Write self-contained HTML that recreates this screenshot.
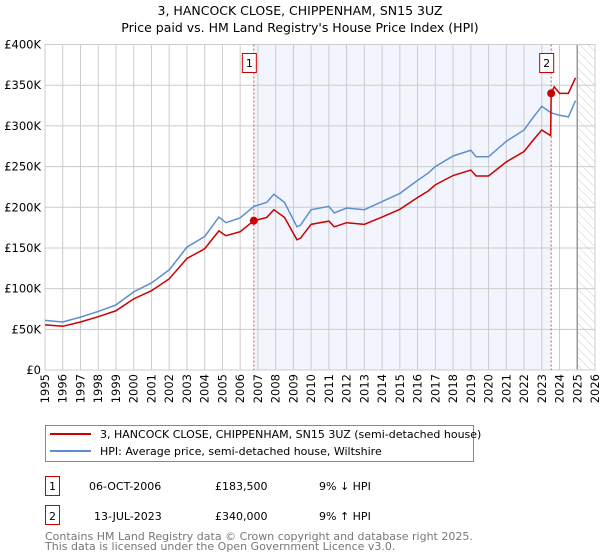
<!DOCTYPE html>
<html><head><meta charset="utf-8"><style>
body{margin:0;background:#fff}
svg{display:block;font-family:"DejaVu Sans","Liberation Sans",sans-serif}
</style></head><body>
<svg id="chart" width="600" height="560" viewBox="0 0 600 560" xmlns="http://www.w3.org/2000/svg">
<defs><pattern id="hatch" width="6" height="6" patternUnits="userSpaceOnUse" patternTransform="rotate(-45)"><line x1="0" y1="0" x2="0" y2="6" stroke="#ccc" stroke-width="1"/></pattern></defs>
<text x="300" y="15" text-anchor="middle" font-size="12.5">3, HANCOCK CLOSE, CHIPPENHAM, SN15 3UZ</text>
<text x="300" y="32" text-anchor="middle" font-size="12.5">Price paid vs. HM Land Registry's House Price Index (HPI)</text>
<g id="plot"></g>
<g>
<rect x="45.5" y="425.5" width="428" height="36" fill="#fff" stroke="#888"/>
<line x1="50" y1="434" x2="91" y2="434" stroke="#cc0000" stroke-width="2"/>
<text x="100" y="438" font-size="11">3, HANCOCK CLOSE, CHIPPENHAM, SN15 3UZ (semi-detached house)</text>
<line x1="50" y1="451" x2="91" y2="451" stroke="#5b8fd0" stroke-width="2"/>
<text x="100" y="455" font-size="11">HPI: Average price, semi-detached house, Wiltshire</text>
</g>
<g font-size="11">
<rect x="45.5" y="476.5" width="14" height="19" fill="#fff" stroke="#cc0000"/>
<text x="52.5" y="490" text-anchor="middle">1</text>
<text x="89" y="490">06-OCT-2006</text><text x="215" y="490">£183,500</text><text x="319" y="490">9% ↓ HPI</text>
</g>
<g font-size="11">
<rect x="45.5" y="505.5" width="14" height="19" fill="#fff" stroke="#cc0000"/>
<text x="52.5" y="520" text-anchor="middle">2</text>
<text x="94" y="520">13-JUL-2023</text><text x="215" y="520">£340,000</text><text x="319" y="520">9% ↑ HPI</text>
</g>
<text x="45" y="540" font-size="11" fill="#777">Contains HM Land Registry data © Crown copyright and database right 2025.</text>
<text x="45" y="550" font-size="11" fill="#777">This data is licensed under the Open Government Licence v3.0.</text>
</svg>
<script>
const hpiDates=[1995,1996,1997,1998,1999,2000,2001,2002,2003,2004,2004.8,2005.2,2006,2006.77,2007.5,2007.9,2008.5,2009.2,2009.4,2010,2011,2011.3,2012,2013,2014,2015,2016,2016.6,2017,2018,2019,2019.3,2020,2021,2022,2022.5,2023,2023.53,2024,2024.5,2024.9];
const hpiValues=[61,59,65,72,80,96,107,123,151,164,188,181,187,201,206,216,206,176,178,197,201,193,199,197,207,217,233,242,250,263,270,262,262,281,295,310,324,316,313,311,331];
const redDates=[1995,1996,1997,1998,1999,2000,2001,2002,2003,2004,2004.8,2005.2,2006,2006.77,2007.5,2007.9,2008.5,2009.2,2009.4,2010,2011,2011.3,2012,2013,2014,2015,2016,2016.6,2017,2018,2019,2019.3,2020,2021,2022,2022.5,2023,2023.5,2023.53,2023.7,2024,2024.5,2024.9];
const redValues=[55.5,53.7,59,65.5,72.8,87.4,97.4,112,137,149,171,165,170,183.5,187.5,197,187.5,160,162,179,183,176,181,179,188,197.5,212,220,227.5,239,245.7,238.4,238.4,255.7,268.5,282,295,288,340,348,340,340,359];
const saleDates=[2006.77,2023.53];
const saleValues=[183.5,340];
const saleLabels=["1","2"];
const yTicks=[0,50,100,150,200,250,300,350,400];
const yTickLabels=["£0","£50K","£100K","£150K","£200K","£250K","£300K","£350K","£400K"];
const xTicks=[1995,1996,1997,1998,1999,2000,2001,2002,2003,2004,2005,2006,2007,2008,2009,2010,2011,2012,2013,2014,2015,2016,2017,2018,2019,2020,2021,2022,2023,2024,2025,2026];

const L=45,R=595,T=44.5,B=370,X0=1995,X1=2026,YMAX=400;
const xs=d=>L+(d-X0)/(X1-X0)*(R-L);
const ys=v=>B-v/YMAX*(B-T);
const NS="http://www.w3.org/2000/svg";
const g=document.getElementById('plot');
function mk(tag,attrs,parent){const e=document.createElementNS(NS,tag);for(const k in attrs)e.setAttribute(k,attrs[k]);(parent||g).appendChild(e);return e;}

const shade=mk('rect',{x:xs(saleDates[0]),y:T,width:xs(saleDates[1])-xs(saleDates[0]),height:B-T,fill:'#f2f5fd'});


const hatch=mk('rect',{x:xs(2025),y:T,width:R-xs(2025),height:B-T,fill:'url(#hatch)'});



yTicks.forEach((v,i)=>{
  const ln=mk('line',{x1:L,x2:R,y1:ys(v),y2:ys(v),stroke:'#ccc','stroke-width':1});
  
  
  const t=mk('text',{x:L-4,y:ys(v)+4,'text-anchor':'end','font-size':11.5});
  
  
  t.textContent=yTickLabels[i];
});
xTicks.forEach(d=>{
  const ln=mk('line',{x1:xs(d),x2:xs(d),y1:T,y2:B,stroke:'#ccc','stroke-width':1});
  
  
  const t=mk('text',{x:0,y:0,'text-anchor':'end','font-size':11.5,transform:`translate(${xs(d)+4},${B+4}) rotate(-90)`});
  
  
  t.textContent=d;
});
const fl=mk('line',{x1:xs(2025),x2:xs(2025),y1:T,y2:B,stroke:'#999','stroke-width':1.5});


const frame=mk('rect',{x:L,y:T,width:R-L,height:B-T,fill:'none',stroke:'#ccc'});



saleDates.forEach((d,i)=>{
  const vl=mk('line',{x1:xs(d),x2:xs(d),y1:T,y2:B,stroke:'#e05050','stroke-width':1,'stroke-dasharray':'2,2'});
  
  
  const bx=mk('rect',{x:xs(d)-11.5,y:53.5,width:14,height:19,fill:'#fff',stroke:'#cc0000'});
  
  
  const t=mk('text',{x:xs(d)-4.5,y:67,'text-anchor':'middle','font-size':11});
  
  
  t.textContent=saleLabels[i];
});

const hp=mk('polyline',{points:hpiDates.map((d,i)=>xs(d)+','+ys(hpiValues[i])).join(' '),fill:'none',stroke:'#5b8fd0','stroke-width':1.5});


const rp=mk('polyline',{points:redDates.map((d,i)=>xs(d)+','+ys(redValues[i])).join(' '),fill:'none',stroke:'#cc0000','stroke-width':1.5});


saleDates.forEach((d,i)=>{
  const c=mk('circle',{cx:xs(d),cy:ys(saleValues[i]),r:4,fill:'#cc0000'});
  
  
});
</script>
</body></html>
